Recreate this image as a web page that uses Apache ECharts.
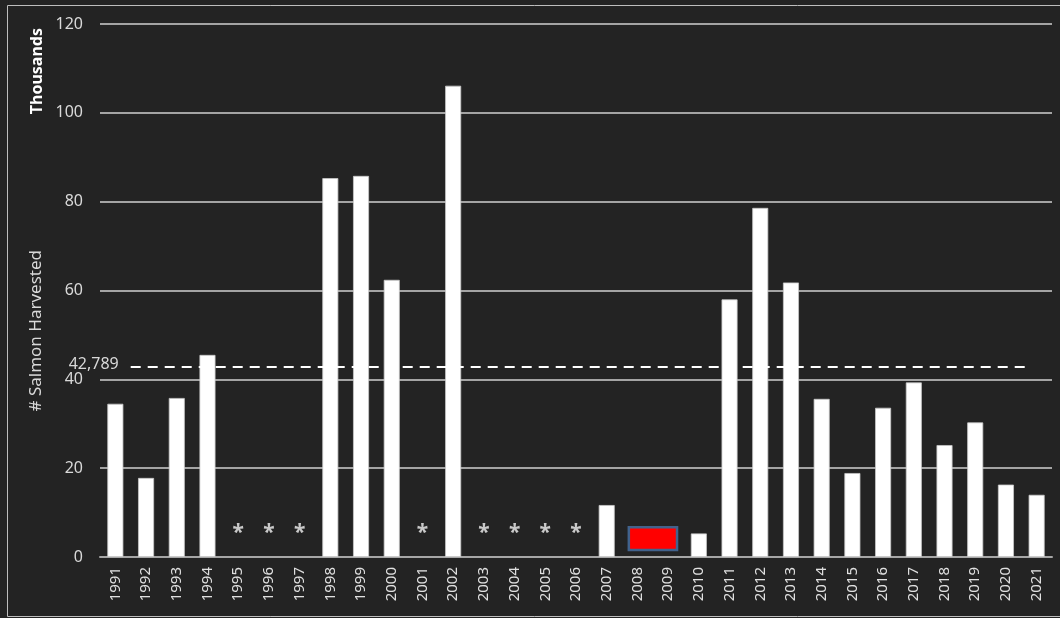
<!DOCTYPE html>
<html>
<head>
<meta charset="utf-8">
<script src="https://cdn.jsdelivr.net/npm/echarts@6/dist/echarts.min.js"></script>
<style>
html,body{margin:0;padding:0;background:#232323;}
#c{width:1060px;height:618px;}
</style>
</head>
<body>
<div id="c"></div>
<script>
// ---- data ----
const years = ['1991','1992','1993','1994','1995','1996','1997','1998','1999','2000','2001','2002','2003','2004','2005','2006','2007','2008','2009','2010','2011','2012','2013','2014','2015','2016','2017','2018','2019','2020','2021'];
// thousands of salmon harvested (null = no data / not shown)
const harvest = [34.5, 17.8, 35.8, 45.5, null, null, null, 85.3, 85.8, 62.4, null, 106.1, null, null, null, null, 11.7, null, null, 5.3, 58.0, 78.6, 61.8, 35.6, 18.9, 33.6, 39.3, 25.2, 30.3, 16.3, 14.0];
const asteriskYears = ['1995','1996','1997','2001','2003','2004','2005','2006'];
const asteriskLevel = 6;
const redBoxYears = ['2008','2009'];
const redBoxRange = [1.6, 6.7];
const averageValue = 42.789;
const yTicks = [0, 20, 40, 60, 80, 100, 120];

const chart = echarts.init(document.getElementById('c'), null, {renderer: 'canvas'});
const FONT = 'Noto Sans';
const txt = '#d9d9d9';

const option = {
  backgroundColor: '#232323',
  animation: false,
  textStyle: {fontFamily: FONT},
  grid: {left: 100, right: 8, top: 24, bottom: 61},
  xAxis: {
    type: 'category',
    data: years,
    axisLine: {lineStyle: {color: '#a6a6a6', width: 2}},
    axisTick: {show: false},
    axisLabel: {rotate: 90, color: '#e0e0e0', fontSize: 15, margin: 10, interval: 0, fontFamily: FONT},
    splitLine: {show: false}
  },
  yAxis: {
    type: 'value',
    min: yTicks[0], max: yTicks[yTicks.length - 1], interval: 20,
    axisLine: {show: false},
    axisTick: {show: false},
    axisLabel: {color: txt, fontSize: 16, margin: 17, fontFamily: FONT},
    splitLine: {lineStyle: {color: '#d0d0d0', width: 1.5}}
  },
  graphic: [
    {type: 'rect', silent: true, z: -1,
     shape: {x: 7.5, y: 5.5, width: 1060, height: 611},
     style: {fill: 'none', stroke: '#bdbdbd', lineWidth: 1}},
    {type: 'text', left: 29, top: 28, rotation: Math.PI / 2,
     style: {text: 'Thousands', fill: '#ffffff', font: 'bold 16px "Noto Sans"'}},
    {type: 'text', left: 28, top: 250, rotation: Math.PI / 2,
     style: {text: '# Salmon Harvested', fill: txt, font: '17px "Noto Sans"'}}
  ],
  series: [
    {
      type: 'bar',
      data: harvest,
      barWidth: 16,
      itemStyle: {color: '#ffffff', borderColor: '#c8c8c8', borderWidth: 0.8},
      z: 3
    },
    {
      type: 'scatter',
      data: asteriskYears.map(y => [y, asteriskLevel]),
      symbolSize: 0,
      label: {show: true, position: 'inside', formatter: '*', color: '#f2f2f2', fontSize: 21, fontWeight: 'bold', fontFamily: FONT, offset: [0, 3]},
      z: 4
    },
    {
      type: 'custom',
      data: [[years.indexOf(redBoxYears[0]), years.indexOf(redBoxYears[1]), redBoxRange[0], redBoxRange[1]]],
      encode: {x: [0, 1], y: [2, 3]},
      renderItem: function (params, api) {
        const band = api.size([1, 0])[0];
        const p1 = api.coord([api.value(0), api.value(3)]);
        const p2 = api.coord([api.value(1), api.value(2)]);
        const x0 = p1[0] - band * 0.28;
        const x1 = p2[0] + band * 0.29;
        return {
          type: 'rect',
          shape: {x: x0, y: p1[1], width: x1 - x0, height: p2[1] - p1[1]},
          style: {fill: '#ff0000', stroke: '#41628c', lineWidth: 2.5}
        };
      },
      z: 5
    },
    {
      type: 'custom',
      data: [[0, averageValue, years.length - 1]],
      encode: {x: [0, 2], y: 1},
      renderItem: function (params, api) {
        const band = api.size([1, 0])[0];
        const a = api.coord([api.value(0), api.value(1)]);
        const b = api.coord([api.value(2), api.value(1)]);
        const xs = a[0] + band * 0.5;
        const xe = b[0] - band * 0.23;
        return {
          type: 'group',
          children: [
            {type: 'line', shape: {x1: xs, y1: a[1], x2: xe, y2: a[1]},
             style: {stroke: '#ffffff', lineWidth: 2, lineDash: [10, 7]}},
            {type: 'text', x: xs - 12, y: a[1] - 3,
             style: {text: averageValue.toLocaleString('en-US', {maximumFractionDigits: 3}).replace('.', ','), fill: txt,
                     font: '16px "Noto Sans"', align: 'right', verticalAlign: 'middle'}}
          ]
        };
      },
      clip: false,
      z: 6
    }
  ]
};
chart.setOption(option);
</script>
</body>
</html>
